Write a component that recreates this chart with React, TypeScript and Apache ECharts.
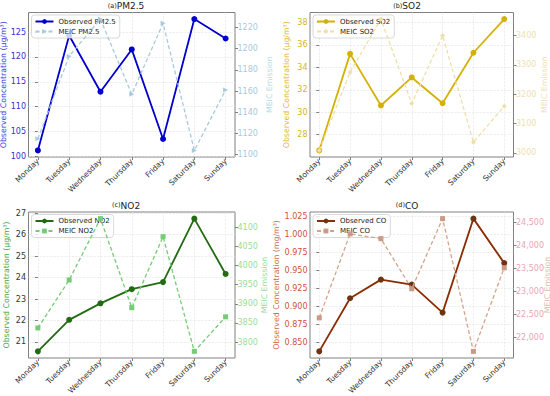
import React, { useEffect, useRef } from 'react';
import * as echarts from 'echarts';

const days = ['Monday', 'Tuesday', 'Wednesday', 'Thursday', 'Friday', 'Saturday', 'Sunday'];

const obsPM25 = [101.2, 124.3, 113.0, 121.5, 103.5, 127.6, 123.7];
const meicPM25 = [1115, 1193, 1228, 1157, 1224, 1104, 1161];
const obsSO2 = [26.6, 35.2, 30.6, 33.1, 30.8, 35.3, 38.3];
const meicSO2 = [3008, 3275, 3456, 3168, 3400, 3036, 3159];
const obsNO2 = [20.56, 22.03, 22.8, 23.46, 23.79, 26.75, 24.17];
const meicNO2 = [3837, 3962, 4122, 3890, 4075, 3776, 3866];
const obsCO = [0.837, 0.911, 0.937, 0.93, 0.891, 1.022, 0.96];
const meicCO = [22419, 24243, 24140, 23051, 24574, 21691, 23507];

const FONT = 'DejaVu Sans';

const pad = (arr: number[]) => {
  const mn = Math.min(...arr);
  const mx = Math.max(...arr);
  const r = mx - mn;
  return [mn - 0.05 * r, mx + 0.05 * r];
};

const ticksIn = (mn: number, mx: number, step: number) => {
  const out: number[] = [];
  for (let k = Math.ceil(mn / step - 1e-9); k * step <= mx + 1e-9; k++) out.push(+(k * step).toFixed(6));
  return out;
};

const onStep = (v: number, step: number) => Math.abs(v / step - Math.round(v / step)) < 1e-6;

const panels = [
  {
    obs: obsPM25, meic: meicPM25, obsName: 'Observed PM2.5', meicName: 'MEIC PM2.5',
    tag: '(a)', name: 'PM2.5', tagAlign: 'middle', titleX: 126, titleY: 6,
    leftName: 'Observed Concentration (μg/m³)', leftStep: 5, rightStep: 20,
    leftFmt: (v: number) => String(v), rightFmt: (v: number) => String(v),
    obsColor: '#0000CD', obsMarker: '#0000CD', meicColor: '#a9c9de', meicMarker: '#a9c9de',
    leftLabel: '#3030d8', leftNameColor: '#3a3ad8', rightLabel: '#a9c9da', rightNameColor: '#b8dce6',
    meicSymbol: 'triangle', meicRotate: -90,
    grid: { left: 28.5, top: 12.5, width: 206.5, height: 144.5 }, leftGap: 21.5, rightGap: 30,
  },
  {
    obs: obsSO2, meic: meicSO2, obsName: 'Observed SO2', meicName: 'MEIC SO2',
    tag: '(b)', name: 'SO2', tagAlign: 'middle', titleX: 407, titleY: 6,
    leftName: 'Observed Concentration (μg/m³)', leftStep: 2, rightStep: 100,
    leftFmt: (v: number) => String(v), rightFmt: (v: number) => String(v),
    obsColor: '#d4b106', obsMarker: '#d4b106', meicColor: '#eee0a8', meicMarker: '#eee0a8',
    leftLabel: '#d9b422', leftNameColor: '#e0b830', rightLabel: '#efe1b0', rightNameColor: '#efe0b0',
    meicSymbol: 'diamond', meicRotate: 0,
    grid: { left: 310, top: 12.5, width: 203.5, height: 144.5 }, leftGap: 20, rightGap: 26.5,
  },
  {
    obs: obsNO2, meic: meicNO2, obsName: 'Observed NO2', meicName: 'MEIC NO2',
    tag: '(c)', name: 'NO2', tagAlign: 'top', titleX: 126, titleY: 206,
    leftName: 'Observed Concentration (μg/m³)', leftStep: 1, rightStep: 50,
    leftFmt: (v: number) => String(v), rightFmt: (v: number) => String(v),
    obsColor: '#236b12', obsMarker: '#236b12', meicColor: '#74cc74', meicMarker: '#74cc74',
    leftLabel: '#333333', leftNameColor: '#3daa3d', rightLabel: '#98e098', rightNameColor: '#98dd98',
    meicSymbol: 'rect', meicRotate: 0,
    grid: { left: 28.5, top: 212, width: 206.5, height: 146 }, leftGap: 18, rightGap: 25,
  },
  {
    obs: obsCO, meic: meicCO, obsName: 'Observed CO', meicName: 'MEIC CO',
    tag: '(d)', name: 'CO', tagAlign: 'top', titleX: 407, titleY: 206,
    leftName: 'Observed Concentration (mg/m³)', leftStep: 0.025, rightStep: 500,
    leftFmt: (v: number) => v.toFixed(3), rightFmt: (v: number) => v.toLocaleString('en-US'),
    obsColor: '#8b2c00', obsMarker: '#6e3410', meicColor: '#d4a48a', meicMarker: '#c99a86',
    leftLabel: '#d0503a', leftNameColor: '#c86a50', rightLabel: '#eba5b8', rightNameColor: '#d9bcb4',
    meicSymbol: 'rect', meicRotate: 0,
    grid: { left: 310, top: 212, width: 203.5, height: 146 }, leftGap: 30, rightGap: 29.5,
  },
];

function buildOption() {
  const grid: any[] = [];
  const xAxis: any[] = [];
  const yAxis: any[] = [];
  const series: any[] = [];
  const legend: any[] = [];
  const graphic: any[] = [];
  const xTicks = days.map((_, i) => i);

  panels.forEach((p, i) => {
    grid.push({
      ...p.grid, show: true, borderColor: '#808080', borderWidth: 1,
      backgroundColor: 'transparent', containLabel: false, outerBoundsMode: 'none',
    });
    xAxis.push({
      type: 'value', gridIndex: i, min: -0.3, max: 6.3, minInterval: 1, maxInterval: 1,
      axisLine: { show: false },
      axisTick: { show: true, length: 3, lineStyle: { color: '#808080' }, customValues: xTicks },
      axisLabel: {
        rotate: 45, fontSize: 7.6, color: '#333', margin: 3, fontFamily: FONT,
        formatter: (v: number) => (Number.isInteger(v) ? days[Math.round(v)] : ''),
      },
      splitLine: { show: true, lineStyle: { color: '#e2e2e2', type: 'dashed', width: 0.6 } },
    });
    const [lmin, lmax] = pad(p.obs);
    const [rmin, rmax] = pad(p.meic);
    yAxis.push({
      type: 'value', gridIndex: i, position: 'left', min: lmin, max: lmax,
      minInterval: p.leftStep, maxInterval: p.leftStep,
      name: p.leftName, nameLocation: 'middle', nameGap: p.leftGap, nameRotate: 90,
      nameMoveOverlap: false,
      nameTextStyle: { fontSize: 7.8, color: p.leftNameColor, fontFamily: FONT },
      axisLine: { show: false },
      axisTick: { show: true, length: 3, lineStyle: { color: '#808080' }, customValues: ticksIn(lmin, lmax, p.leftStep) },
      axisLabel: {
        fontSize: 8, color: p.leftLabel, margin: 2.5, fontFamily: FONT,
        formatter: (v: number) => (onStep(v, p.leftStep) ? p.leftFmt(v) : ''),
      },
      splitLine: { show: true, lineStyle: { color: '#e2e2e2', type: 'dashed', width: 0.6 } },
    });
    yAxis.push({
      type: 'value', gridIndex: i, position: 'right', min: rmin, max: rmax,
      minInterval: p.rightStep, maxInterval: p.rightStep,
      name: 'MEIC Emission', nameLocation: 'middle', nameGap: p.rightGap, nameRotate: 90,
      nameMoveOverlap: false,
      nameTextStyle: { fontSize: 7.8, color: p.rightNameColor, fontFamily: FONT },
      axisLine: { show: false },
      axisTick: { show: true, length: 3, lineStyle: { color: '#808080' }, customValues: ticksIn(rmin, rmax, p.rightStep) },
      axisLabel: {
        fontSize: 8, color: p.rightLabel, margin: 2.5, fontFamily: FONT,
        formatter: (v: number) => (onStep(v, p.rightStep) ? p.rightFmt(v) : ''),
      },
      splitLine: { show: false },
    });
    series.push({
      type: 'line', name: p.obsName, xAxisIndex: i, yAxisIndex: 2 * i,
      data: p.obs.map((v, j) => [j, v]),
      symbol: 'circle', symbolSize: 6, z: 1,
      lineStyle: { color: p.obsColor, width: 1.8 },
      itemStyle: { color: p.obsMarker },
    });
    series.push({
      type: 'line', name: p.meicName, xAxisIndex: i, yAxisIndex: 2 * i + 1,
      data: p.meic.map((v, j) => [j, v]),
      symbol: p.meicSymbol, symbolSize: 5, symbolRotate: p.meicRotate, z: 3,
      lineStyle: { color: p.meicColor, width: 1.3, type: [4, 2.5] },
      itemStyle: { color: p.meicMarker },
    });
    legend.push({
      data: [p.obsName, p.meicName], orient: 'vertical',
      left: p.grid.left + 3, top: p.grid.top + 2.5,
      backgroundColor: 'rgba(255,255,255,0.8)', borderColor: '#d0d0d0', borderWidth: 0.8, borderRadius: 3,
      padding: [3, 4, 3, 3], itemGap: 3, itemWidth: 18, itemHeight: 6, z: 2,
      textStyle: { fontSize: 7, color: '#222', fontFamily: FONT },
    });
    graphic.push({
      type: 'text', x: p.titleX, y: p.titleY,
      style: {
        text: `{s|${p.tag}}{b|${p.name}}`, align: 'center', verticalAlign: 'middle',
        rich: {
          s: { fontSize: 6.5, fontFamily: FONT, fill: '#222', verticalAlign: p.tagAlign },
          b: { fontSize: 9, fontFamily: FONT, fill: '#222' },
        },
      },
    });
  });

  return {
    animation: false,
    backgroundColor: '#ffffff',
    textStyle: { fontFamily: FONT },
    grid, xAxis, yAxis, series, legend, graphic,
  };
}

export default function App() {
  const ref = useRef<HTMLDivElement>(null);
  useEffect(() => {
    const chart = echarts.init(ref.current!, null, { renderer: 'svg' });
    chart.setOption(buildOption() as any);
    return () => chart.dispose();
  }, []);
  return (
    <div
      ref={ref}
      style={{ position: 'fixed', left: 0, top: 0, width: 550, height: 396, background: '#fff' }}
    />
  );
}
